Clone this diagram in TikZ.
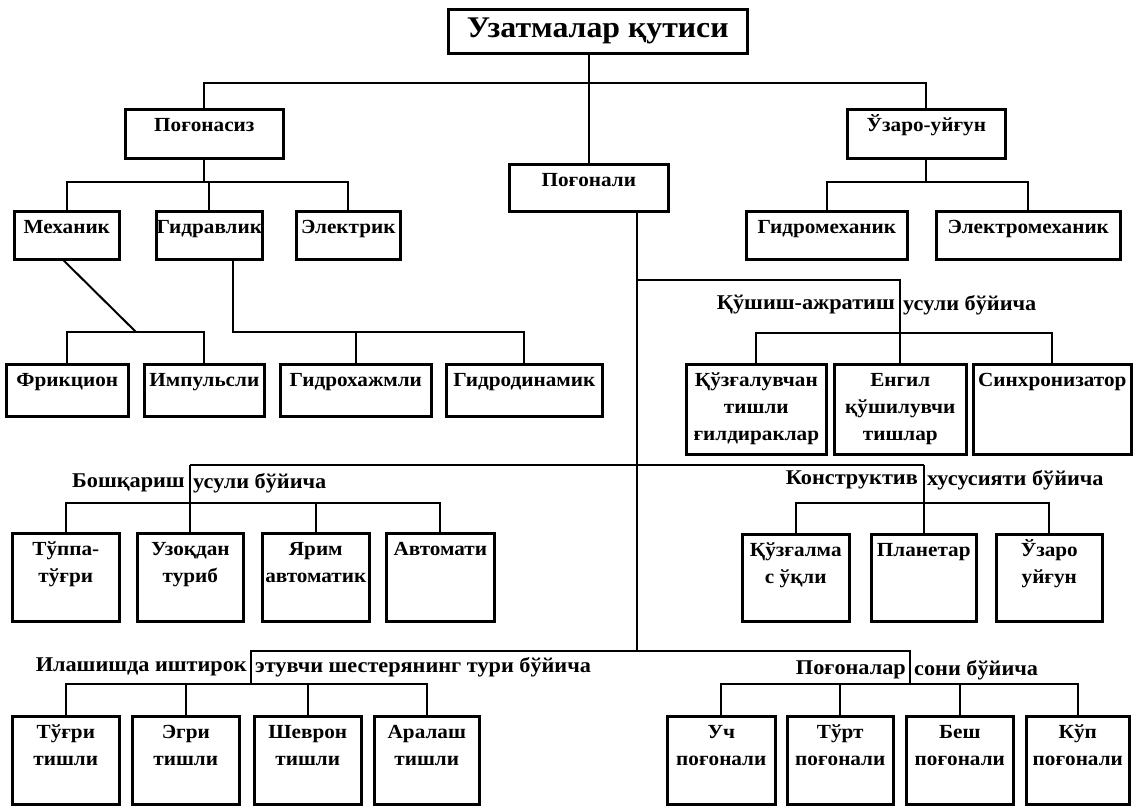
\documentclass[tikz,border=0pt]{standalone}
\usepackage{fontspec}
\setmainfont{Liberation Serif}[FakeStretch=1.06]
\usetikzlibrary{calc}
\newcommand\bt[3]{\parbox[c][#2pt][t]{#1pt}{\centering\rule{0pt}{22pt}#3\par}}
\begin{document}
\begin{tikzpicture}[x=1pt,y=-1pt,
  bx/.style={draw, line width=2.6pt, inner sep=0pt, anchor=north west, font=\fontsize{20}{27}\selectfont\bfseries},
  ln/.style={line width=2pt},
  hd/.style={inner sep=0pt, font=\fontsize{21}{24}\selectfont\bfseries}]
\useasboundingbox (0,0) rectangle (1141,807);
% title
\node[draw, line width=2.6pt, minimum width=299pt, minimum height=44pt, anchor=north west, inner sep=0pt,
      font=\fontsize{30}{32}\selectfont\bfseries] (T) at (447,8) {Узатмалар қутиси};
% level 1
\node[bx] (PS) at (124,108) {\bt{158}{49}{Поғонасиз}};
\node[bx] (PL) at (508,163) {\bt{159}{47}{Поғонали}};
\node[bx] (UZ) at (846,108) {\bt{158}{49}{Ўзаро-уйғун}};
% level 2
\node[bx] (ME) at (13,210) {\bt{105}{48}{Механик}};
\node[bx] (GR) at (155,210) {\bt{106}{48}{Гидравлик}};
\node[bx] (EL) at (295,210) {\bt{104}{48}{Электрик}};
\node[bx] (GM) at (745,210) {\bt{161}{48}{Гидромеханик}};
\node[bx] (EM) at (935,210) {\bt{184}{48}{Электромеханик}};
% level 3
\node[bx] (FR) at (5,363) {\bt{122}{52}{Фрикцион}};
\node[bx] (IM) at (143,363) {\bt{120}{52}{Импульсли}};
\node[bx] (GH) at (279,363) {\bt{151}{52}{Гидрохажмли}};
\node[bx] (GD) at (445,363) {\bt{156}{52}{Гидродинамик}};
\node[bx] (K1) at (685,363) {\bt{140}{90}{Қўзғалувчан\\тишли\\ғилдираклар}};
\node[bx] (K2) at (833,363) {\bt{132}{90}{Енгил\\қўшилувчи\\тишлар}};
\node[bx] (K3) at (972,363) {\bt{158}{90}{Синхронизатор}};
% level 4
\node[bx] (B1) at (11,532) {\bt{107}{88}{Тўппа-\\тўғри}};
\node[bx] (B2) at (136,532) {\bt{106}{88}{Узоқдан\\туриб}};
\node[bx] (B3) at (261,532) {\bt{107}{88}{Ярим\\автоматик}};
\node[bx] (B4) at (385,532) {\bt{108}{88}{Автомати}};
\node[bx] (C1) at (741,533) {\bt{107}{87}{Қўзғалма\\с ўқли}};
\node[bx] (C2) at (870,533) {\bt{105}{87}{Планетар}};
\node[bx] (C3) at (995,533) {\bt{106}{87}{Ўзаро\\уйғун}};
% level 5
\node[bx] (S1) at (11,715) {\bt{107}{88}{Тўғри\\тишли}};
\node[bx] (S2) at (131,715) {\bt{107}{88}{Эгри\\тишли}};
\node[bx] (S3) at (253,715) {\bt{107}{88}{Шеврон\\тишли}};
\node[bx] (S4) at (373,715) {\bt{105}{88}{Аралаш\\тишли}};
\node[bx] (N1) at (666,715) {\bt{108}{88}{Уч\\поғонали}};
\node[bx] (N2) at (786,715) {\bt{106}{88}{Тўрт\\поғонали}};
\node[bx] (N3) at (905,715) {\bt{107}{88}{Беш\\поғонали}};
\node[bx] (N4) at (1025,715) {\bt{103}{88}{Кўп\\поғонали}};
% headers
\node[hd, anchor=east] (H1a) at (895,305) {Қўшиш-ажратиш};
\node[hd, anchor=west] (H1b) at (903,305) {усули бўйича};
\node[hd, anchor=east] (H2a) at (185,483) {Бошқариш};
\node[hd, anchor=west] (H2b) at (193,483) {усули бўйича};
\node[hd, anchor=east] (H3a) at (918,480) {Конструктив};
\node[hd, anchor=west] (H3b) at (927,480) {хусусияти бўйича};
\node[hd, anchor=east] (H4a) at (247,667) {Илашишда иштирок};
\node[hd, anchor=west] (H4b) at (255,667) {этувчи шестерянинг тури бўйича};
\node[hd, anchor=east] (H5a) at (906,670) {Поғоналар};
\node[hd, anchor=west] (H5b) at (914,670) {сони бўйича};
% bus coordinates
\coordinate (b0) at (0,83);
\coordinate (b1) at (0,182);
\coordinate (mb) at (0,332);
\coordinate (gx) at (233,0);
\coordinate (dj) at (136,332);
\coordinate (tk) at (637,0);
\coordinate (r1) at (0,280);
\coordinate (r2) at (0,333);
\coordinate (r3) at (0,465);
\coordinate (r4) at (0,503);
\coordinate (ix) at (251,0);
\coordinate (px) at (910,0);
\coordinate (r5) at (0,651);
\coordinate (r6) at (0,684);
% connectors
\draw[ln] (T.south -| PL.north) -- (PL.north);
\draw[ln] (PS.north) -- (PS.north |- b0) -- (UZ.north |- b0) -- (UZ.north);
\draw[ln] (PS.south) -- (PS.south |- b1);
\draw[ln] (ME.north) -- (ME.north |- b1) -- (EL.north |- b1) -- (EL.north);
\draw[ln] (GR.north) -- (GR.north |- b1);
\draw[ln] (UZ.south) -- (UZ.south |- b1);
\draw[ln] (GM.north) -- (GM.north |- b1) -- (EM.north |- b1) -- (EM.north);
\draw[ln] ($(ME.south)+(-3,0)$) -- (dj);
\draw[ln] (FR.north) -- (FR.north |- mb) -- (IM.north |- mb) -- (IM.north);
\draw[ln] (GR.south -| gx) -- (gx |- mb) -- (GD.north |- mb) -- (GD.north);
\draw[ln] (GH.north) -- (GH.north |- mb);
\draw[ln] (PL.south -| tk) -- (tk |- r5);
\draw[ln] (tk |- r1) -- (K2.north |- r1) -- (K2.north);
\draw[ln] (K1.north) -- (K1.north |- r2) -- (K3.north |- r2) -- (K3.north);
\draw[ln] (B2.north |- r3) -- (C2.north |- r3);
\draw[ln] (B2.north |- r3) -- (B2.north);
\draw[ln] (C2.north |- r3) -- (C2.north);
\draw[ln] (B1.north) -- (B1.north |- r4) -- (B4.north |- r4) -- (B4.north);
\draw[ln] (B3.north) -- (B3.north |- r4);
\draw[ln] (C1.north) -- (C1.north |- r4) -- (C3.north |- r4) -- (C3.north);
\draw[ln] (ix |- r6) -- (ix |- r5) -- (px |- r5) -- (px |- r6);
\draw[ln] (S1.north) -- (S1.north |- r6) -- (S4.north |- r6) -- (S4.north);
\draw[ln] (S2.north) -- (S2.north |- r6);
\draw[ln] (S3.north) -- (S3.north |- r6);
\draw[ln] (N1.north) -- (N1.north |- r6) -- (N4.north |- r6) -- (N4.north);
\draw[ln] (N2.north) -- (N2.north |- r6);
\draw[ln] (N3.north) -- (N3.north |- r6);
\end{tikzpicture}
\end{document}
